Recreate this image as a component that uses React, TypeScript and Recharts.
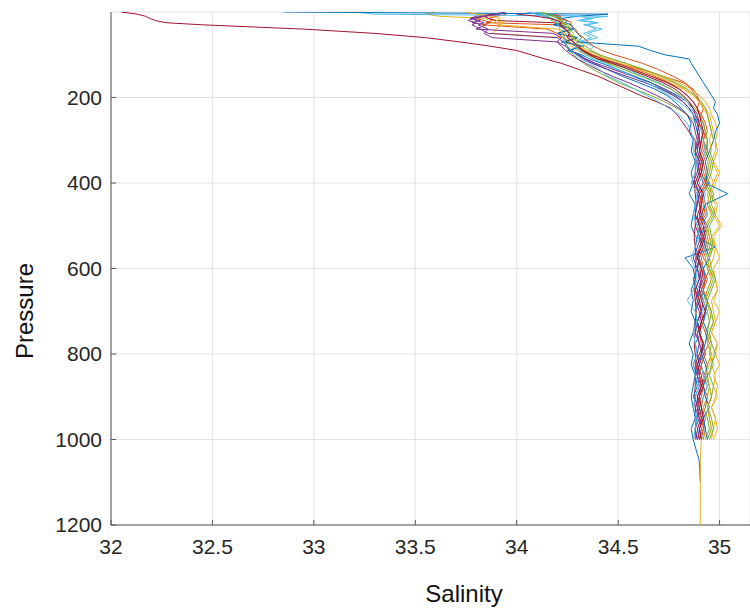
import { ScatterChart, Scatter, XAxis, YAxis, CartesianGrid } from "recharts";

// pressure levels (dbar) shared by every cast; casts that go deeper run into the last four
const pressureLevels = [
  0, 5, 10, 15, 20, 25, 30, 40, 50, 60, 70, 80, 90, 100, 110, 120, 135, 150, 165, 180, 195, 210, 225, 240, 260, 280,
  300, 325, 350, 375, 400, 425, 450, 475, 500, 525, 550, 575, 600, 625, 650, 675, 700, 725, 750, 775, 800, 825, 850,
  875, 900, 925, 950, 975, 1000, 1050, 1100, 1150, 1200,
];

const salinityTicks = [32, 32.5, 33, 33.5, 34, 34.5, 35];
const pressureTicks = [200, 400, 600, 800, 1000, 1200];

// MATLAB default colour order
const lineColors = ["#0072BD", "#D95319", "#EDB120", "#7E2F8E", "#77AC30", "#4DBEEE", "#A2142F"];

// salinity per cast, one value per pressure level (null = no reading)
const cast01 = [
  34.05, 34.1, 34.14, 34.17, 34.2, 34.19, 34.22, 34.27, 34.2, 34.3, 34.22, 34.33, 34.25, 34.31, 34.34, 34.38, 34.45, 34.52, 34.6, 34.68, 34.74, 34.78, 34.81, 34.84, 34.86, 34.85, 34.87,
  34.86, 34.88, 34.86, 34.87, 34.85, 34.88, 34.87, 34.86, 34.88, 34.98, 34.83, 34.87, 34.88, 34.86, 34.87, 34.86, 34.88, 34.87, 34.85, 34.87, 34.86, 34.88, 34.87, 34.86, 34.87, 34.88, 34.86, 34.87,
  34.9, 34.905,
];
const cast02 = [
  null, 33.95, 33.9, 33.86, 33.88, 33.85, 34.2, 34.24, 34.22, 34.27, 34.28, 34.3, 34.33, 34.36, 34.4, 34.5, 34.62, 34.72, 34.82, 34.87, 34.89, 34.9, 34.92, 34.91, 34.93, 34.94, 34.92,
  34.94, 34.92, 34.93, 34.95, 34.92, 34.93, 34.94, 34.91, 34.93, 34.94, 34.92, 34.95, 34.93, 34.92, 34.94, 34.93, 34.91, 34.93, 34.95, 34.92, 34.94, 34.93, 34.92, 34.94, 34.93, 34.91, 34.93, 34.92,
];
const cast03 = [
  33.6, 33.55, 33.62, 33.85, 33.9, 33.88, 33.92, 33.9, 33.88, 34.22, 34.25, 34.27, 34.3, 34.34, 34.4, 34.46, 34.56, 34.66, 34.75, 34.82, 34.87, 34.9, 34.93, 34.95, 34.96, 34.97, 34.98,
  34.98, 34.96, 34.99, 34.97, 34.95, 34.98, 34.97, 35.0, 34.96, 34.98, 34.97, 34.95, 34.98, 34.99, 34.96, 34.97, 34.98, 34.96, 34.99, 34.97, 34.96, 34.98, 34.97, 34.99, 34.96, 34.98, 34.97, 34.96,
];
const cast04 = [
  33.95, 33.88, 33.8, 33.77, 33.82, 33.78, 33.85, 33.8, 34.18, 34.22, 34.2, 34.24, 34.27, 34.3, 34.34, 34.39, 34.48, 34.57, 34.66, 34.73, 34.79, 34.84, 34.87, 34.89, 34.9, 34.92, 34.91,
  34.9, 34.92, 34.91, 34.89, 34.92, 34.9, 34.91, 34.93, 34.9, 34.91, 34.89, 34.92, 34.91, 34.9, 34.92, 34.91, 34.89, 34.9, 34.92, 34.91, 34.9, 34.93, 34.91, 34.89, 34.91, 34.92, 34.9, 34.91,
];
const cast05 = [
  34.1, 34.12, 34.15, 34.18, 34.17, 34.2, 34.22, 34.21, 34.24, 34.23, 34.25, 34.24, 34.26, 34.28, 34.3, 34.33, 34.38, 34.44, 34.5, 34.58, 34.66, 34.73, 34.79, 34.84, 34.89, 34.92, 34.94,
  34.94, 34.96, 34.95, 34.93, 34.96, 34.95, 34.97, 34.94, 34.95, 34.96, 34.94, 34.95, 34.97, 34.95, 34.93, 34.96, 34.95, 34.94, 34.96, 34.95, 34.97, 34.94, 34.95, 34.96, 34.94, 34.95, 34.96, 34.94,
];
const cast06 = [
  33.2, 33.3, 34.45, 34.35, 34.3, 34.4, 34.33, 34.42, 34.35, 34.4, 34.32, 34.38, 34.36, 34.4, 34.43, 34.48, 34.55, 34.62, 34.7, 34.76, 34.8, 34.84, 34.86, 34.88, 34.89, 34.9, 34.89,
  34.89, 34.91, 34.9, 34.88, 34.91, 34.9, 34.92, 34.89, 34.9, 34.91, 34.88, 34.9, 34.91, 34.89, 34.9, 34.92, 34.9, 34.88, 34.9, 34.91, 34.89, 34.9, 34.92, 34.9, 34.89, 34.91, 34.9, 34.89,
];
// the fresh outlier cast
const cast07 = [
  32.05, 32.13, 32.17, 32.19, 32.22, 32.27, 32.45, 32.95, 33.3, 33.55, 33.72, 33.87, 34.0, 34.07, 34.14, 34.22, 34.31, 34.4, 34.47, 34.54, 34.61, 34.69, 34.76, 34.79, 34.82, 34.85, 34.88,
  34.88, 34.885, 34.88, 34.875, 34.88, 34.885, 34.88, 34.88, 34.875, 34.88, 34.885, 34.88, 34.88, 34.875, 34.88, 34.885, 34.88, 34.88, 34.875, 34.88, 34.885, 34.88, 34.88, 34.875, 34.88, 34.885, 34.88, 34.88,
];
const cast08 = [
  32.85, 34.45, 34.3, 34.22, 34.2, 34.24, 34.18, 34.28, 34.2, 34.3, 34.24, 34.32, 34.26, 34.32, 34.36, 34.42, 34.5, 34.58, 34.66, 34.72, 34.78, 34.82, 34.85, 34.87, 34.88, 34.89, 34.9,
  34.88, 34.9, 34.89, 34.95, 34.9, 34.89, 34.88, 34.91, 34.89, 34.88, 34.9, 34.89, 34.87, 34.89, 34.9, 34.88, 34.89, 34.91, 34.88, 34.89, 34.9, 34.88, 34.89, 34.87, 34.9, 34.89, 34.88, 34.89,
];
const cast09 = [
  null, 33.9, 33.82, 33.8, 33.84, 33.87, 33.83, 34.15, 34.2, 34.23, 34.26, 34.29, 34.32, 34.37, 34.43, 34.5, 34.6, 34.68, 34.75, 34.8, 34.84, 34.87, 34.89, 34.9, 34.92, 34.93, 34.92,
  34.93, 34.91, 34.92, 34.94, 34.91, 34.92, 34.93, 34.9, 34.92, 34.93, 34.91, 34.92, 34.94, 34.92, 34.91, 34.93, 34.92, 34.9, 34.92, 34.93, 34.91, 34.92, 34.94, 34.92, 34.91, 34.93, 34.92, 34.91,
];
const cast10 = [
  null, 34.2, 34.18, 34.22, 34.2, 34.24, 34.23, 34.26, 34.28, 34.27, 34.3, 34.32, 34.35, 34.4, 34.46, 34.53, 34.63, 34.72, 34.8, 34.86, 34.9, 34.93, 34.95, 34.96, 34.98, 34.99, 34.98,
  34.99, 34.97, 35.0, 34.98, 34.96, 34.99, 34.98, 35.01, 34.97, 34.98, 35.0, 34.97, 34.98, 34.99, 34.97, 35.0, 34.98, 34.96, 34.99, 34.98, 35.0, 34.97, 34.99, 34.98, 34.96, 34.98, 34.99, 34.97,
];
const cast11 = [
  null, 33.92, 33.85, 33.79, 33.76, 33.8, 33.78, 33.82, 33.86, 34.2, 34.23, 34.25, 34.27, 34.3, 34.33, 34.37, 34.45, 34.54, 34.63, 34.71, 34.77, 34.82, 34.85, 34.87, 34.89, 34.9, 34.9,
  34.91, 34.89, 34.9, 34.92, 34.89, 34.9, 34.91, 34.88, 34.9, 34.92, 34.9, 34.89, 34.91, 34.9, 34.88, 34.9, 34.91, 34.89, 34.9, 34.92, 34.9, 34.89, 34.91, 34.9, 34.88, 34.9, 34.91, 34.9,
];
const cast12 = [
  34.1, 34.14, 34.18, 34.2, 34.22, 34.21, 34.24, 34.26, 34.25, 34.28, 34.3, 34.29, 34.32, 34.35, 34.4, 34.45, 34.53, 34.61, 34.69, 34.76, 34.81, 34.85, 34.88, 34.9, 34.92, 34.93, 34.94,
  34.93, 34.95, 34.94, 34.92, 34.95, 34.94, 34.96, 34.93, 34.94, 34.95, 34.93, 34.94, 34.96, 34.94, 34.92, 34.94, 34.95, 34.93, 34.94, 34.96, 34.94, 34.93, 34.95, 34.94, 34.92, 34.94, 34.95, 34.93,
];
const cast13 = [
  34.08, 34.15, 34.3, 34.38, 34.32, 34.4, 34.35, 34.39, 34.33, 34.37, 34.3, 34.28, 34.31, 34.34, 34.38, 34.44, 34.5, 34.57, 34.64, 34.7, 34.75, 34.8, 34.84, 34.87, 34.9, 34.91, 34.92,
  34.93, 34.91, 34.92, 34.9, 34.93, 34.92, 34.94, 34.91, 34.92, 34.93, 34.9, 34.92, 34.93, 34.91, 34.92, 34.94, 34.92, 34.9, 34.92, 34.93, 34.91, 34.92, 34.94, 34.92, 34.9, 34.92, 34.93, 34.91,
];
const cast14 = [
  null, 33.88, 33.84, 33.86, 33.9, 34.18, 34.22, 34.24, 34.26, 34.25, 34.28, 34.3, 34.32, 34.36, 34.4, 34.47, 34.56, 34.64, 34.72, 34.78, 34.82, 34.85, 34.87, 34.88, 34.9, 34.89, 34.9,
  34.89, 34.91, 34.9, 34.88, 34.9, 34.91, 34.89, 34.9, 34.92, 34.9, 34.89, 34.91, 34.9, 34.88, 34.9, 34.91, 34.89, 34.9, 34.92, 34.9, 34.88, 34.9, 34.91, 34.89, 34.9, 34.91, 34.89, 34.9,
];
const cast15 = [
  null, 34.15, 34.2, 34.22, 34.25, 34.24, 34.27, 34.28, 34.3, 34.32, 34.3, 34.6, 34.66, 34.73, 34.85, 34.86, 34.88, 34.9, 34.92, 34.94, 34.96, 34.98, 34.97, 34.99, 35.0, 34.98, 34.97,
  34.95, 34.93, 34.94, 34.93, 35.04, 34.93, 34.91, 34.94, 34.92, 34.93, 34.95, 34.92, 34.93, 34.91, 34.94, 34.93, 34.92, 34.94, 34.93, 34.91, 34.93, 34.94, 34.92, 34.93, 34.95, 34.92, 34.93, 34.94,
];
const cast16 = [
  null, 34.18, 34.22, 34.2, 34.25, 34.27, 34.26, 34.29, 34.3, 34.33, 34.35, 34.38, 34.42, 34.48, 34.55, 34.62, 34.7, 34.77, 34.83, 34.86, 34.88, 34.9, 34.89, 34.91, 34.9, 34.92, 34.91,
  34.92, 34.9, 34.91, 34.93, 34.9, 34.91, 34.92, 34.89, 34.91, 34.92, 34.9, 34.91, 34.93, 34.91, 34.89, 34.91, 34.92, 34.9, 34.91, 34.93, 34.91, 34.9, 34.92, 34.91, 34.89, 34.91, 34.92, 34.9,
];
const cast17 = [
  33.75, 33.8, 33.88, 33.92, 33.9, 33.94, 33.91, 34.2, 34.23, 34.25, 34.28, 34.3, 34.34, 34.38, 34.44, 34.5, 34.6, 34.69, 34.77, 34.83, 34.87, 34.9, 34.92, 34.94, 34.95, 34.96, 34.95,
  34.96, 34.94, 34.95, 34.97, 34.94, 34.95, 34.96, 34.93, 34.95, 34.97, 34.94, 34.95, 34.96, 34.94, 34.93, 34.95, 34.97, 34.95, 34.94, 34.96, 34.95, 34.93, 34.95, 34.96, 34.94, 34.95, 34.96, 34.91,
  34.905, 34.905, 34.905, 34.905,
];
const cast18 = [
  null, 33.9, 33.83, 33.78, 33.8, 33.84, 33.81, 33.86, 33.84, 33.88, 34.2, 34.22, 34.24, 34.27, 34.3, 34.34, 34.4, 34.47, 34.55, 34.62, 34.69, 34.75, 34.8, 34.84, 34.87, 34.88, 34.89,
  34.88, 34.9, 34.89, 34.87, 34.9, 34.89, 34.88, 34.9, 34.91, 34.89, 34.87, 34.89, 34.9, 34.88, 34.89, 34.91, 34.89, 34.88, 34.9, 34.89, 34.87, 34.89, 34.9, 34.88, 34.89, 34.9, 34.88, 34.89,
];
const cast19 = [
  34.12, 34.16, 34.19, 34.21, 34.23, 34.22, 34.25, 34.27, 34.26, 34.29, 34.31, 34.34, 34.37, 34.41, 34.47, 34.54, 34.63, 34.71, 34.78, 34.84, 34.88, 34.91, 34.93, 34.94, 34.95, 34.96, 34.97,
  34.95, 34.97, 34.96, 34.94, 34.97, 34.96, 34.98, 34.95, 34.96, 34.97, 34.95, 34.96, 34.98, 34.96, 34.94, 34.96, 34.97, 34.95, 34.96, 34.98, 34.96, 34.95, 34.97, 34.96, 34.94, 34.96, 34.97, 34.95,
];
const cast20 = [
  34.05, 34.1, 34.13, 34.17, 34.2, 34.19, 34.21, 34.23, 34.22, 34.24, 34.23, 34.25, 34.27, 34.29, 34.32, 34.36, 34.41, 34.45, 34.52, 34.58, 34.64, 34.7, 34.75, 34.8, 34.84, 34.86, 34.87,
  34.87, 34.89, 34.88, 34.86, 34.89, 34.88, 34.87, 34.89, 34.9, 34.88, 34.86, 34.88, 34.89, 34.87, 34.84, 34.88, 34.89, 34.87, 34.88, 34.89, 34.87, 34.88, 34.9, 34.88, 34.87, 34.89, 34.88, 34.87,
];
const cast21 = [
  null, 34.0, 34.1, 34.16, 34.2, 34.22, 34.21, 34.24, 34.26, 34.25, 34.28, 34.3, 34.33, 34.37, 34.42, 34.49, 34.58, 34.66, 34.74, 34.8, 34.84, 34.87, 34.89, 34.9, 34.91, 34.92, 34.91,
  34.9, 34.92, 34.91, 34.89, 34.92, 34.91, 34.9, 34.92, 34.93, 34.91, 34.89, 34.91, 34.92, 34.9, 34.91, 34.93, 34.91, 34.9, 34.92, 34.91, 34.89, 34.91, 34.92, 34.9, 34.91, 34.92, 34.9, 34.91,
];

const casts = [
  cast01, cast02, cast03, cast04, cast05, cast06, cast07, cast08, cast09, cast10, cast11,
  cast12, cast13, cast14, cast15, cast16, cast17, cast18, cast19, cast20, cast21,
];

const castData = casts.map((values) =>
  values
    .map((s, i) => ({ s, p: pressureLevels[i] }))
    .filter((d) => d.s != null && d.p != null)
);

const AXIS_COLOR = "#555555";
const TEXT_COLOR = "#262626";
const FONT = "'Liberation Sans', Arial, Helvetica, sans-serif";
const X_MARGIN = 14;
const Y_MARGIN = 9;

function BottomTick(props: any) {
  const { x, y, payload } = props;
  const axisY = y - X_MARGIN;
  return (
    <g>
      <line x1={x} x2={x} y1={axisY} y2={axisY - 5} stroke={AXIS_COLOR} />
      <text x={x} y={y} dy="0.71em" textAnchor="middle" fontSize={21} fontFamily={FONT} fill={TEXT_COLOR}>
        {payload.value}
      </text>
    </g>
  );
}

function TopTick(props: any) {
  const { x, y } = props;
  return <line x1={x} x2={x} y1={y} y2={y + 5} stroke={AXIS_COLOR} />;
}

function LeftTick(props: any) {
  const { x, y, payload } = props;
  const axisX = x + Y_MARGIN;
  return (
    <g>
      <line x1={axisX} x2={axisX + 5} y1={y} y2={y} stroke={AXIS_COLOR} />
      <text x={x} y={y} dy="0.355em" textAnchor="end" fontSize={21} fontFamily={FONT} fill={TEXT_COLOR}>
        {payload.value}
      </text>
    </g>
  );
}

function SalinityLabel() {
  return (
    <text x={464} y={602} textAnchor="middle" fontSize={24} fontFamily={FONT} fill="#111">
      Salinity
    </text>
  );
}

function PressureLabel() {
  return (
    <text x={33} y={311} transform="rotate(-90 33 311)" textAnchor="middle" fontSize={24} fontFamily={FONT} fill="#111">
      Pressure
    </text>
  );
}

const NoDot = () => <g />;

export default function App() {
  return (
    <div style={{ position: "absolute", left: 0, top: 0, background: "#fff" }}>
      <ScatterChart width={750} height={610} margin={{ top: 12, right: 0, bottom: 0, left: 0 }}>
        <CartesianGrid stroke="#e3e3e3" />
        <XAxis
          type="number"
          dataKey="s"
          domain={[32, 35.15]}
          ticks={salinityTicks}
          allowDataOverflow
          height={85}
          tickSize={0}
          tickMargin={X_MARGIN}
          tick={<BottomTick />}
          axisLine={{ stroke: AXIS_COLOR }}
          label={<SalinityLabel />}
        />
        <XAxis
          xAxisId="top"
          orientation="top"
          type="number"
          dataKey="s"
          domain={[32, 35.15]}
          ticks={salinityTicks}
          allowDataOverflow
          height={0}
          tickSize={0}
          tickMargin={0}
          tick={<TopTick />}
          axisLine={{ stroke: AXIS_COLOR }}
        />
        <YAxis
          type="number"
          dataKey="p"
          reversed
          domain={[0, 1200]}
          ticks={pressureTicks}
          allowDataOverflow
          width={111}
          tickSize={0}
          tickMargin={Y_MARGIN}
          tick={<LeftTick />}
          axisLine={{ stroke: AXIS_COLOR }}
          label={<PressureLabel />}
        />
        {castData.map((data, i) => (
          <Scatter
            key={i}
            data={data}
            fill={lineColors[i % lineColors.length]}
            line={{ stroke: lineColors[i % lineColors.length], strokeWidth: 1 }}
            shape={NoDot}
            isAnimationActive={false}
          />
        ))}
      </ScatterChart>
    </div>
  );
}
